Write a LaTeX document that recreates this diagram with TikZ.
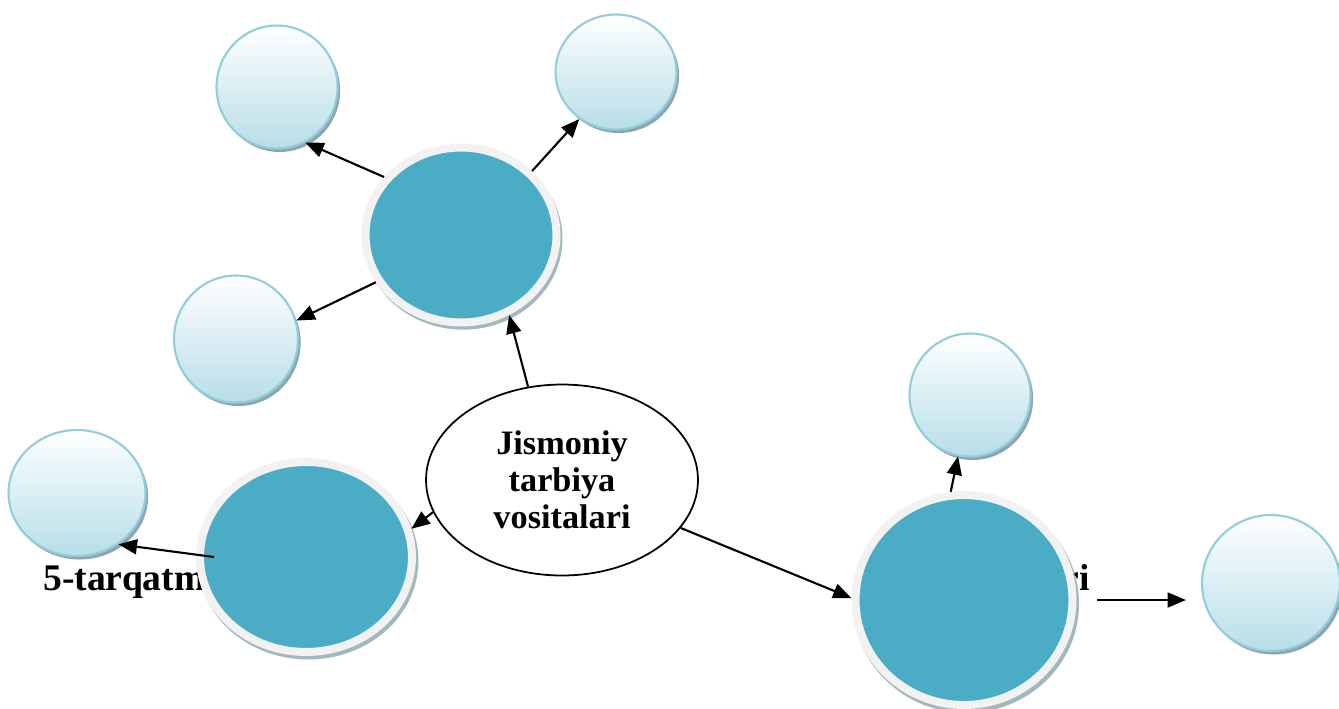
\documentclass[tikz,border=0pt]{standalone}
\usepackage{fontspec}
\setmainfont{Liberation Serif}
\usetikzlibrary{shapes.geometric,shadows,arrows.meta}
\definecolor{tealfill}{RGB}{75,172,198}
\definecolor{ringgrey}{RGB}{242,242,242}
\definecolor{rimblue}{RGB}{146,205,220}
\definecolor{paleblue}{RGB}{183,222,232}
\definecolor{shadegrey}{RGB}{140,165,175}

\begin{document}
\begin{tikzpicture}[x=0.02cm,y=-0.02cm] % 1 unit = 1 px of the sketch
    \tikzstyle{every node}=[font=\bfseries]
    \tikzstyle{leaf}=[ellipse, draw=rimblue, line width=1.2pt, top color=white, bottom color=paleblue, drop shadow={shadow xshift=1.5pt, shadow yshift=-2pt, fill=shadegrey, opacity=1}]
    \tikzstyle{hub}=[ellipse, draw=ringgrey, line width=0.16cm, fill=tealfill, drop shadow={shadow scale=1.04, shadow xshift=1.2pt, shadow yshift=-2pt, fill=shadegrey, opacity=.8}]
    \tikzstyle{link}=[line width=1.2pt, -{Triangle[length=10.5pt,width=8.5pt]}]
    \tikzstyle{sidetext}=[inner sep=0, font=\bfseries\fontsize{21.4}{25}\selectfont]
    \useasboundingbox (0,0) rectangle (1339,708);
    % outer circles
    \node[leaf, minimum width=2.42cm, minimum height=2.46cm] (tl) at (277,87) {};
    \node[leaf, minimum width=2.42cm, minimum height=2.30cm] (tr) at (616,72) {};
    \node[leaf, minimum width=2.48cm, minimum height=2.54cm] (ml) at (236,339) {};
    \node[leaf, minimum width=2.74cm, minimum height=2.52cm] (fl) at (77,493) {};
    \node[leaf, minimum width=2.42cm, minimum height=2.46cm] (rt) at (970,395) {};
    \node[leaf, minimum width=2.76cm, minimum height=2.72cm] (fr) at (1271,583) {};
    \node[sidetext, anchor=base west] (lblleft) at (43,590) {5-tarqatm};
    \node[sidetext, anchor=base east] (lblright) at (1090,590) {ri};
    % teal circles
    \node[hub, minimum width=3.82cm, minimum height=3.50cm] (hubT) at (461,235) {};
    \node[hub, minimum width=4.24cm, minimum height=3.80cm] (hubL) at (306,557) {};
    \node[hub, minimum width=4.34cm, minimum height=4.20cm] (hubR) at (964,600) {};
    \node[ellipse, draw, line width=1pt, fill=white, inner sep=0, minimum width=5.44cm, minimum height=3.82cm, align=center, font=\bfseries\fontsize{19.5}{21}\selectfont] (core) at (562,480) {Jismoniy\\tarbiya\\vositalari};
    \coordinate (rfrom) at (1097,600);
    \coordinate (rto) at (1186,600);
    \draw[link] (hubT.143) -- (tl.-63);
    \draw[link] (hubT.42) -- (tr.-128);
    \draw[link] (hubT.-151) -- (ml.17);
    \draw[link] (core.110) -- (hubT.-59);
    \draw[link] (core.-166) -- (hubL.15);
    \draw[link] ([xshift=0.36cm]hubL.180) -- (fl.-51);
    \draw[link] (core.-22) -- (hubR.179);
    \draw[link] (hubR.97) -- (rt.-101);
    \draw[link] (rfrom) -- (rto);
\end{tikzpicture}
\end{document}
